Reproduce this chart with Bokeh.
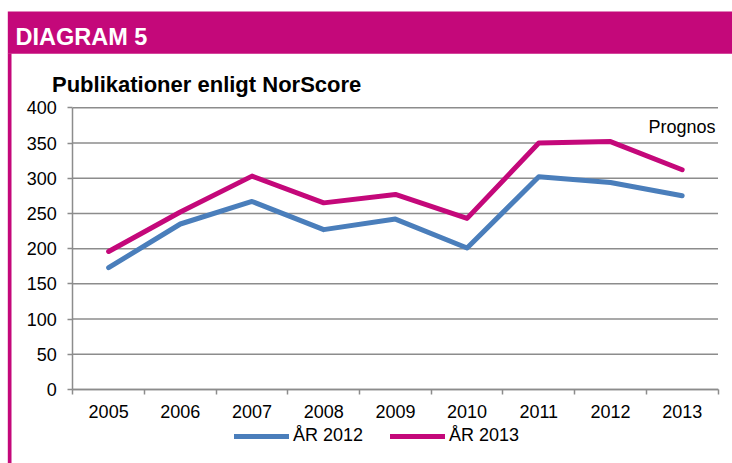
from bokeh.plotting import figure
from bokeh.models import (FixedTicker, Legend, LegendItem, Label, Range1d,
                          ColumnDataSource, BoxAnnotation, LinearAxis)
from bokeh.embed import file_html
from bokeh.resources import INLINE

years = ["2005", "2006", "2007", "2008", "2009", "2010", "2011", "2012", "2013"]
ar_2012 = [173, 235, 267, 227, 242, 201, 302, 294, 275]
ar_2013 = [196, 252, 303, 265, 277, 243, 350, 352, 312]
y_ticks = [0, 50, 100, 150, 200, 250, 300, 350, 400]

BLUE = "#4A7EBB"
MAGENTA = "#C4087A"
GRID = "#8C8C8C"
FONT = "Liberation Sans"

# canvas geometry (pixels) – plot area placement
W, H = 732, 463
PX_L, PX_R, PX_T, PX_B = 72.3, 717.5, 107.3, 389.0
NX = len(years)
YMAX = y_ticks[-1]
ppx = (PX_R - PX_L) / NX
ppy = (PX_B - PX_T) / YMAX


def dx(px):
    return (px - PX_L) / ppx


def dy(py):
    return (PX_B - py) / ppy


xpos = [i + 0.5 for i in range(NX)]
src = ColumnDataSource(dict(x=xpos, a=ar_2012, b=ar_2013))
grid_src = ColumnDataSource(dict(y=y_ticks, x0=[0] * len(y_ticks),
                                 x1=[NX] * len(y_ticks)))

p = figure(width=W, height=H, output_backend="svg", toolbar_location=None,
           x_range=Range1d(dx(0), dx(W)), y_range=Range1d(dy(H), dy(0)),
           x_axis_location=None, y_axis_location=None,
           min_border=0, margin=0)
p.min_border_left = 0
p.min_border_right = 0
p.min_border_top = 0
p.min_border_bottom = 0
p.outline_line_color = None
p.xgrid.visible = False
p.ygrid.visible = False

# header band, left border, titles
p.add_layout(BoxAnnotation(left=dx(7.3), right=dx(W), bottom=dy(53.3), top=dy(11),
                           fill_color=MAGENTA, fill_alpha=1, line_color=None,
                           level="underlay"))
p.add_layout(BoxAnnotation(left=dx(7.3), right=dx(11), bottom=dy(H + 5), top=dy(53),
                           fill_color=MAGENTA, fill_alpha=1, line_color=None,
                           level="underlay"))
p.add_layout(Label(x=dx(15), y=dy(36.5), text="DIAGRAM 5", text_color="white",
                   text_font=FONT, text_font_style="bold", text_font_size="23.5px",
                   text_baseline="alphabetic"))
p.add_layout(Label(x=dx(51.5), y=dy(83.7), text="Publikationer enligt NorScore",
                   text_color="black", text_font=FONT, text_font_style="bold",
                   text_font_size="22px", text_baseline="alphabetic"))
p.add_layout(Label(x=dx(715), y=dy(126.8), text="Prognos", text_color="black",
                   text_font=FONT, text_font_size="18px",
                   text_align="right", text_baseline="alphabetic"))

# horizontal grid lines over the plot area only
p.segment(x0="x0", y0="y", x1="x1", y1="y", source=grid_src,
          line_color=GRID, line_width=1.5)

r1 = p.line("x", "a", source=src, line_color=BLUE, line_width=5,
            line_join="round", line_cap="round")
r2 = p.line("x", "b", source=src, line_color=MAGENTA, line_width=5,
            line_join="round", line_cap="round")

# x axis (category boundaries get tick marks, labels at centres)
xa = LinearAxis(fixed_location=0, bounds=(0, NX))
xa.ticker = FixedTicker(ticks=xpos, minor_ticks=list(range(NX + 1)))
xa.major_label_overrides = {x: y for x, y in zip(xpos, years)}
xa.major_tick_out = 0
xa.major_tick_in = 0
xa.minor_tick_out = 5
xa.minor_tick_in = 0
xa.minor_tick_line_color = GRID
xa.minor_tick_line_width = 1.5
xa.axis_line_color = GRID
xa.axis_line_width = 1.5
xa.major_label_text_font = FONT
xa.major_label_text_font_size = "18px"
xa.major_label_text_color = "black"
xa.major_label_standoff = 10
p.add_layout(xa, "below")

# y axis
ya = LinearAxis(fixed_location=0, bounds=(0, YMAX))
ya.ticker = FixedTicker(ticks=y_ticks)
ya.major_tick_out = 5
ya.major_tick_in = 0
ya.minor_tick_out = 0
ya.minor_tick_in = 0
ya.major_tick_line_color = GRID
ya.major_tick_line_width = 1.5
ya.axis_line_color = GRID
ya.axis_line_width = 1.5
ya.major_label_text_font = FONT
ya.major_label_text_font_size = "18px"
ya.major_label_text_color = "black"
ya.major_label_standoff = 11
p.add_layout(ya, "left")

legend = Legend(items=[LegendItem(label="ÅR 2012", renderers=[r1]),
                       LegendItem(label="ÅR 2013", renderers=[r2])],
                orientation="horizontal", location=(234, 17),
                padding=0, margin=0, spacing=27, glyph_width=55,
                glyph_height=20, label_standoff=4, label_height=20,
                border_line_color=None, background_fill_alpha=0,
                label_text_font=FONT, label_text_font_size="18px",
                label_text_color="black")
p.add_layout(legend, "center")

open("out.html", "w").write(file_html(p, INLINE))
